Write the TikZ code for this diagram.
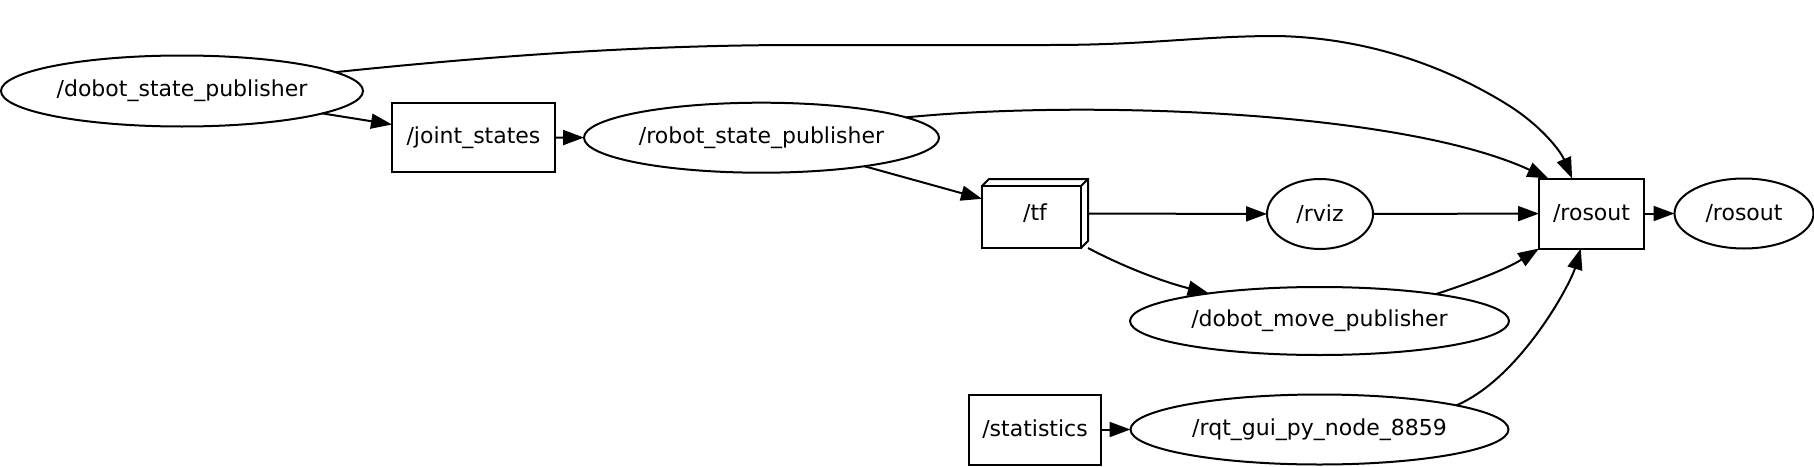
\documentclass[tikz,border=0pt]{standalone}
\usepackage{fontspec}
\setmainfont{DejaVu Sans}
\usetikzlibrary{arrows.meta,calc,shapes.geometric}

\begin{document}
\begin{tikzpicture}[x=0.5pt, y=-0.5pt,
    every node/.style={font=\fontsize{11pt}{13pt}\selectfont, inner sep=0pt, outer sep=0pt},
    rosnode/.style={draw, line width=1pt, ellipse},
    rostopic/.style={draw, line width=1pt, rectangle},
    link/.style={line width=1pt, -{Triangle[length=10.5pt, width=7.5pt]}}]
    \useasboundingbox (0,0) rectangle (1814,466);

    \node[rosnode, minimum width=181pt, minimum height=35.5pt] (dobotstate) at (182,91) {/dobot\_state\_publisher};
    \node[rostopic, minimum width=81.5pt, minimum height=34.5pt] (joint) at (473.5,137.5) {/joint\_states};
    \node[rosnode, minimum width=177.5pt, minimum height=35pt] (robotstate) at (761.5,137.7) {/robot\_state\_publisher};
    \node[minimum width=53pt, minimum height=34.5pt] (tf) at (1035,213.5) {/tf};
    \node[rosnode, minimum width=53pt, minimum height=35pt] (rviz) at (1320,214) {/rviz};
    \node[rostopic, minimum width=52.5pt, minimum height=35pt] (rosouttopic) at (1591.5,213.5) {/rosout};
    \node[rosnode, minimum width=69.5pt, minimum height=35pt] (rosoutnode) at (1744,213.5) {/rosout};
    \node[rosnode, minimum width=189.5pt, minimum height=34pt] (dobotmove) at (1319.5,321) {/dobot\_move\_publisher};
    \node[rostopic, minimum width=66pt, minimum height=35pt] (stats) at (1035,429.5) {/statistics};
    \node[rosnode, minimum width=189pt, minimum height=35pt] (rqt) at (1319.5,429.5) {/rqt\_gui\_py\_node\_8859};

    % box3d look of /tf
    \draw[line width=1pt] (tf.south west) rectangle ($(tf.north east)+(-7,7)$);
    \draw[line width=1pt] ($(tf.north west)+(0,7)$) -- ($(tf.north west)+(7,0)$) -- (tf.north east)
        -- ($(tf.south east)+(0,-7)$) -- ($(tf.south east)+(-7,0)$);
    \draw[line width=1pt] ($(tf.north east)+(-7,7)$) -- (tf.north east);

    \draw[link] (dobotstate) -- (joint);
    \draw[link] (joint) -- (robotstate);
    \draw[link] (robotstate) -- (tf);
    \draw[link] (tf) -- (rviz);
    \draw[link] (rviz) -- (rosouttopic);
    \draw[link] (rosouttopic) -- (rosoutnode);
    \draw[link] (stats) -- (rqt);
    \draw[link] (tf.south east) .. controls (1120,265) and (1160,281) .. (dobotmove.166);
    \draw[link] (dobotmove.13) .. controls (1470,283) and (1505,270) .. (rosouttopic.south west);
    \draw[link] (rqt.10) .. controls (1520,378) and (1570,285) .. (rosouttopic.253);
    \draw[link] (robotstate.8) .. controls (1080,100) and (1400,110) .. (rosouttopic.141);
    \draw[link] (dobotstate.7) .. controls (500,55) and (650,45) .. (800,45) -- (1050,45)
        .. controls (1150,45) and (1200,36) .. (1277,36)
        .. controls (1380,38) and (1460,75) .. (1508,105)
        .. controls (1540,125) and (1560,150) .. (rosouttopic.119);
\end{tikzpicture}
\end{document}
